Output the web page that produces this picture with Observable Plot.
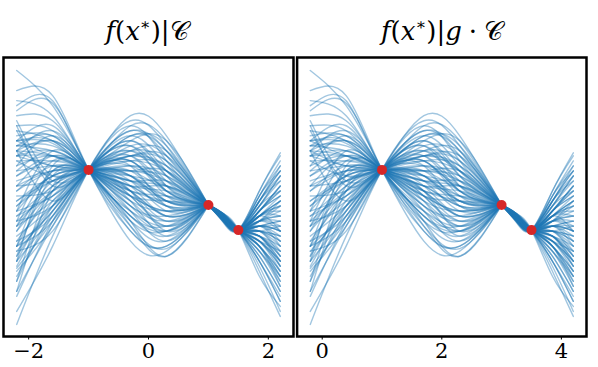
<!DOCTYPE html>
<html>
<head>
<meta charset="utf-8">
<script src="https://cdn.jsdelivr.net/npm/d3@7"></script>
<script src="https://cdn.jsdelivr.net/npm/@observablehq/plot@0.6"></script>
<style>
  html, body { margin: 0; padding: 0; background: #fff; }
  #wrap { position: relative; width: 598px; height: 367px; overflow: hidden; }
  .title { position: absolute; top: 16px; font-family: "DejaVu Serif", serif; font-size: 26px; white-space: nowrap; transform: translateX(-50%); color: #000; }
  .title i { font-style: italic; }
  .title sup { font-size: 16px; vertical-align: 10px; line-height: 0; }
  .title .op { padding: 0 7px; }
  .panel { position: absolute; top: 55px; }
</style>
</head>
<body>
<div id="wrap">
  <div class="title" style="left:147px"><i>f</i>(<i>x</i><sup>∗</sup>)|𝒞</div>
  <div class="title" style="left:442px"><i>f</i>(<i>x</i><sup>∗</sup>)|<i>g</i><span class="op">·</span>𝒞</div>
  <div class="panel" id="left" style="left:0px"></div>
  <div class="panel" id="right" style="left:294px"></div>
</div>
<script>
// Observed (conditioning) points C
const obsX = [-1, 1, 1.5];
const obsY = [0.62, -0.08, -0.58];
// Translation g applied in the right panel
const shiftG = 2;
// Tick labels
const leftTicks = [-2, 0, 2];
const rightTicks = [0, 2, 4];
// x positions at which each posterior sample is read (besides the observed points)
const freeX = [-2.2, -1.6, -0.3, 0.3, 1.25, 1.85, 2.2];
// Posterior samples f(x*)|C, values at freeX
const samples = [
  [2.6, 1.9, -0.8, -1.0, -0.25, -1.3, -2.2],
  [2.2, 2.1, -0.6, -0.9, -0.26, -1.1, -1.8],
  [1.8, 1.95, -0.5, -0.95, -0.26, -1.2, -2.0],
  [1.9, 2.0, -0.2, -0.5, -0.28, -0.5, -0.6],
  [2.0, 1.7, -0.3, -0.7, -0.27, -0.9, -1.5],
  [1.2, 1.5, -0.2, -0.6, -0.28, -0.8, -1.2],
  [1.1, 1.3, 0.0, -0.5, -0.29, -0.7, -1.0],
  [0.9, 1.2, -0.4, -1.1, -0.25, -1.4, -2.3],
  [1.2, 1.15, 0.1, -0.2, -0.31, -0.5, -0.6],
  [0.6, 1.0, 0.2, -0.3, -0.3, -0.9, -1.6],
  [1.0, 0.9, 0.4, 0.0, -0.32, -0.4, -0.3],
  [-0.4, 0.8, 0.3, -0.1, -0.31, -0.6, -0.9],
  [0.2, 0.7, 0.5, 0.3, -0.34, -0.3, 0.1],
  [-0.2, 0.5, 0.7, 0.4, -0.35, -0.5, -0.4],
  [-0.9, 0.6, 0.7, 0.5, -0.36, -0.2, 0.3],
  [-0.6, 0.4, 0.9, 0.6, -0.37, -0.6, -0.7],
  [1.4, 0.4, 0.8, 0.2, -0.33, -0.8, -1.3],
  [-0.9, 0.2, 1.1, 0.9, -0.39, -0.1, 0.5],
  [-1.2, 0.0, 1.3, 1.0, -0.4, -0.3, 0.0],
  [-0.3, 0.1, 1.2, 1.2, -0.41, 0.1, 0.8],
  [-1.6, -0.2, 1.5, 1.2, -0.42, 0.0, 0.6],
  [-2.46, -0.7, 1.7, 1.3, -0.43, 0.2, 0.96],
  [-2.2, -0.9, 1.6, 1.1, -0.41, -0.1, 0.2],
  [-1.8, -0.5, 1.4, 0.9, -0.4, -0.4, -0.5],
  [-1.34, -0.4, 1.3, 0.7, -0.38, 0.0, 0.4],
  [-1.0, -0.6, 1.5, 0.8, -0.38, -0.2, 0.1],
  [-0.8, -0.3, 1.0, 0.6, -0.37, -0.7, -1.1],
  [-0.4, -0.1, 1.0, 0.4, -0.36, -0.3, -0.1],
  [-1.6, 0.3, 0.6, 0.0, -0.33, -0.5, -0.8],
  [0.3, 0.4, 0.4, -0.2, -0.31, -0.7, -1.2],
  [-1.1, 0.5, 0.5, 0.1, -0.32, -0.4, -0.4],
  [1.0, 0.7, 0.2, -0.4, -0.29, -1.0, -1.7],
  [0.9, 0.9, 0.0, -0.7, -0.27, -0.9, -1.4],
  [1.1, 1.1, -0.2, -0.8, -0.27, -1.2, -1.9],
  [0.7, 1.3, -0.5, -1.1, -0.25, -1.5, -2.1],
  [-0.5, 0.3, 0.9, 0.8, -0.38, -0.2, 0.2],
  [-0.1, 0.5, 0.6, 0.4, -0.35, -0.1, 0.4],
  [0.3, 0.6, 0.5, 0.0, -0.32, -0.8, -1.0],
  [-0.2, 1.0, 0.3, -0.1, -0.31, -0.6, -0.7],
  [-1.1, -0.1, 1.2, 0.5, -0.37, -0.5, -0.9],
  [1.0, 0.0, 0.8, 0.2, -0.34, -0.4, -0.2],
  [0.1, 0.2, 0.9, 0.7, -0.37, -0.3, 0.0],
  [0.5, 0.8, 0.1, -0.5, -0.29, -0.2, 0.3],
  [1.0, 1.4, -0.6, -0.9, -0.26, -1.0, -1.6],
  [-1.5, -0.3, 1.1, 0.3, -0.35, -0.6, -0.8],
  [-0.2, 0.1, 1.0, 1.0, -0.39, 0.0, 0.7],
  [0.8, 0.8, 0.3, 0.3, -0.34, -0.5, -0.5],
  [-0.9, -0.2, 0.7, -0.1, -0.33, -0.7, -1.2],
  [1.2, 1.2, 0.2, 0.0, -0.31, -0.3, -0.2],
  [0.2, 0.6, 0.2, -0.6, -0.28, -1.1, -1.8],
  [-0.6, 0.2, 0.6, 0.5, -0.35, -0.9, -1.5],
  [1.1, 1.0, -0.1, -0.3, -0.3, -0.6, -0.5],
  [-1.0, -0.2, 1.3, 1.1, -0.4, -0.2, 0.3],
  [0.0, 0.4, 0.8, 0.1, -0.33, 0.1, 0.6],
  [0.7, 0.9, 0.4, 0.1, -0.32, -0.3, -0.1],
  [-1.9, -0.4, 0.9, 0.2, -0.33, -0.8, -1.4],
  [1.6, 0.5, 0.1, -0.4, -0.3, -0.4, 0.0],
  [1.4, 1.2, -0.1, -0.4, -0.29, -0.7, -1.1],
  [-0.3, 0.3, 0.3, -0.3, -0.31, -1.2, -2.0],
  [0.9, 0.7, 0.6, 0.6, -0.36, 0.2, 0.9],
  [-1.3, -0.1, 0.5, 0.0, -0.33, -0.3, -0.6],
  [1.5, 1.4, -0.3, -0.6, -0.28, -0.8, -1.3],
  [0.3, 0.9, -0.1, -0.6, -0.28, -0.5, -0.6],
  [-0.4, 0.2, 0.8, 0.6, -0.36, -0.4, -0.3],
  [0.9, 1.0, 0.1, -0.2, -0.31, -0.4, -0.1],
  [-0.8, 0.1, 1.0, 0.8, -0.38, -0.6, -1.0],
  [0.6, 0.7, 0.3, 0.2, -0.33, -0.1, 0.5],
  [-1.2, -0.3, 1.2, 0.6, -0.37, -0.9, -1.7],
  [0.0, 0.5, 0.4, 0.3, -0.34, -0.6, -1.1],
  [1.2, 0.9, 0.2, 0.1, -0.32, 0.0, 0.6],
  [-0.5, 0.0, 0.9, 0.3, -0.35, -0.2, 0.1],
  [0.4, 0.6, 0.6, 0.2, -0.33, -0.7, -1.3],
  [1.0, 1.2, -0.3, -0.5, -0.28, -0.3, 0.0],
  [-0.1, 0.4, 0.5, -0.1, -0.31, -0.9, -1.4],
  [0.8, 0.5, 0.8, 0.7, -0.37, 0.1, 0.7],
  [-1.4, -0.5, 1.4, 1.0, -0.4, -0.5, -0.7],
  [1.5, 0.3, 0.7, 0.3, -0.34, -0.4, -0.6],
  [1.3, 1.3, -0.4, -0.8, -0.26, -0.6, -0.8],
  [-0.7, -0.1, 0.9, 0.9, -0.38, 0.0, 0.5],
  [0.5, 0.9, 0.0, -0.2, -0.3, -1.0, -1.5],
  [1.7, 1.6, -0.4, -0.6, -0.27, -0.7, -0.9],
  [-1.8, 0.2, 0.4, 0.4, -0.34, -0.3, -0.3],
  [-0.5, 0.6, 0.2, -0.3, -0.31, -0.5, -0.4],
  [-0.9, -0.4, 1.1, 0.5, -0.36, -0.8, -1.2],
  [-1.2, 0.7, 0.1, 0.0, -0.31, -0.2, 0.2]
];

// Each sample is drawn as two smooth pieces that meet at the observed point x = 1
function buildRows(offset) {
  const rows = [];
  samples.forEach((vals, id) => {
    const pts = freeX.map((x, j) => ({x, y: vals[j]}))
      .concat(obsX.map((x, j) => ({x, y: obsY[j]})))
      .sort((a, b) => a.x - b.x);
    pts.forEach(p => {
      if (p.x <= obsX[1]) rows.push({key: id + "a", x: p.x + offset, y: p.y});
      if (p.x >= obsX[1]) rows.push({key: id + "b", x: p.x + offset, y: p.y});
    });
  });
  return rows;
}

function panel(offset, ticks, width, mLeft, mRight) {
  const obs = obsX.map((x, j) => ({x: x + offset, y: obsY[j]}));
  return Plot.plot({
    width, height: 312,
    marginTop: 2, marginBottom: 31, marginLeft: mLeft, marginRight: mRight,
    style: {fontFamily: "'DejaVu Serif', serif", fontSize: "21px", color: "#000", background: "transparent", overflow: "visible"},
    x: {domain: [-2.42 + offset, 2.42 + offset]},
    y: {domain: [-2.7, 2.86], axis: null},
    marks: [
      Plot.line(buildRows(offset), {x: "x", y: "y", z: "key", stroke: "#1f77b4", strokeOpacity: 0.42, strokeWidth: 1.4, curve: "natural"}),
      Plot.dot(obs, {x: "x", y: "y", r: 5, fill: "#d62728", stroke: "none"}),
      Plot.frame({stroke: "#000", strokeWidth: 2.5}),
      Plot.axisX({ticks, label: null, tickSize: 3.5, tickPadding: 3, fontSize: 21, stroke: "#000", tickFormat: d => d < 0 ? "\u2212" + Math.abs(d) : String(d)})
    ]
  });
}

document.getElementById("left").appendChild(panel(0, leftTicks, 296, 3, 3));
document.getElementById("right").appendChild(panel(shiftG, rightTicks, 304, 2.6, 12));
</script>
</body>
</html>
